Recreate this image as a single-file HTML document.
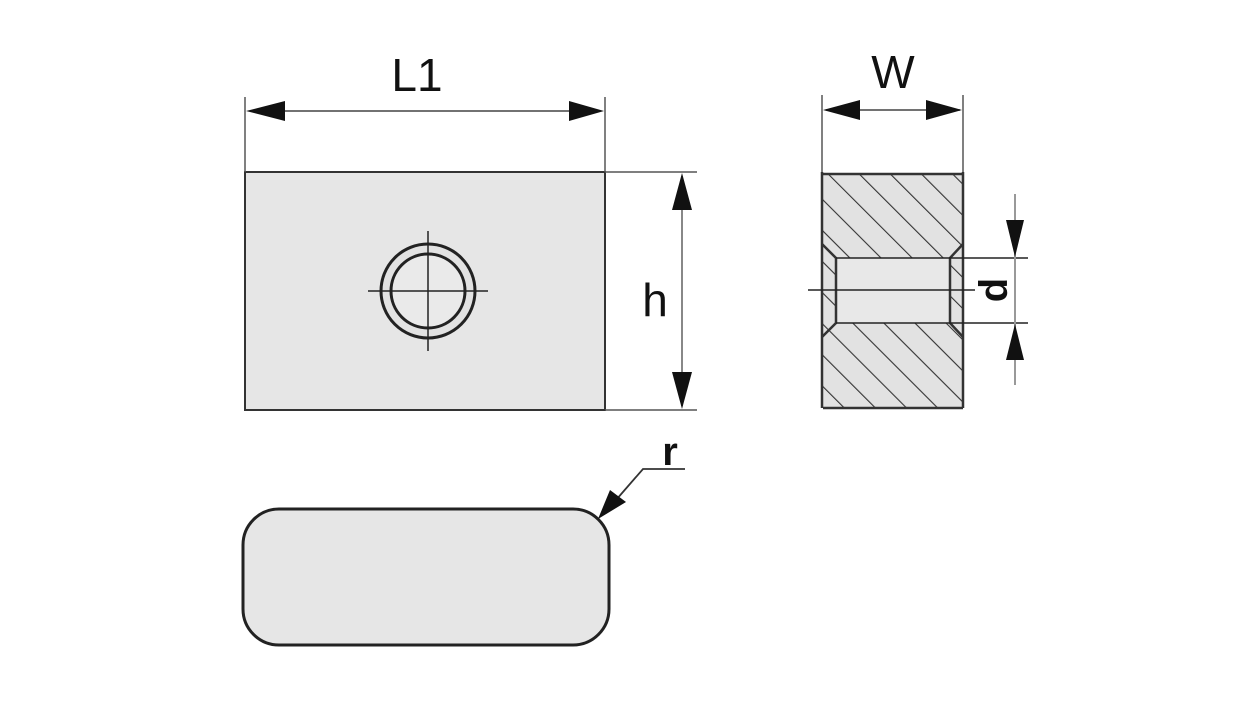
<!DOCTYPE html>
<html><head><meta charset="utf-8"><style>
html,body{margin:0;padding:0;background:#fff;}
svg{display:block;}
text{font-family:"Liberation Sans",sans-serif;fill:#111;}
</style></head><body>
<svg width="1236" height="708" viewBox="0 0 1236 708" xmlns="http://www.w3.org/2000/svg">
<defs>
<pattern id="hatch" patternUnits="userSpaceOnUse" width="22" height="22" patternTransform="rotate(-45)">
<rect width="22" height="22" fill="#e2e2e2"/>
<line x1="0" y1="0" x2="0" y2="22" stroke="#333" stroke-width="2.2"/>
</pattern>
</defs>

<!-- Front view -->
<rect x="245" y="172" width="360" height="238" fill="#e6e6e6" stroke="#333" stroke-width="2"/>
<circle cx="428" cy="291" r="47" fill="#e2e2e2" stroke="#222" stroke-width="3"/>
<circle cx="428" cy="291" r="37" fill="#eaeaea" stroke="#222" stroke-width="3"/>
<line x1="368" y1="291" x2="488" y2="291" stroke="#222" stroke-width="1.5"/>
<line x1="428" y1="231" x2="428" y2="351" stroke="#222" stroke-width="1.5"/>

<!-- L1 dim -->
<line x1="245" y1="97" x2="245" y2="172" stroke="#555" stroke-width="1.5"/>
<line x1="605" y1="97" x2="605" y2="172" stroke="#555" stroke-width="1.5"/>
<line x1="250" y1="111" x2="600" y2="111" stroke="#444" stroke-width="1.5"/>
<polygon points="246,111 285,101 285,121" fill="#111"/>
<polygon points="604,111 569,101 569,121" fill="#111"/>
<text x="417" y="91" font-size="46" text-anchor="middle">L1</text>

<!-- h dim -->
<line x1="605" y1="172" x2="697" y2="172" stroke="#555" stroke-width="1.5"/>
<line x1="605" y1="410" x2="697" y2="410" stroke="#555" stroke-width="1.5"/>
<line x1="682" y1="176" x2="682" y2="406" stroke="#888" stroke-width="2"/>
<polygon points="682,173 672,210 692,210" fill="#111"/>
<polygon points="682,409 672,372 692,372" fill="#111"/>
<text x="655" y="316" font-size="46" text-anchor="middle">h</text>

<!-- Side view -->
<rect x="823" y="174" width="140" height="234" fill="url(#hatch)"/>
<rect x="836" y="258" width="114" height="65" fill="#e8e8e8"/>
<path d="M823,174 L963,174 M823,408 L963,408" stroke="#333" stroke-width="2.5" fill="none"/>
<line x1="822" y1="172" x2="822" y2="408" stroke="#333" stroke-width="2.5"/>
<line x1="963" y1="172" x2="963" y2="408" stroke="#333" stroke-width="2.5"/>
<path d="M822,244 L836,258 L836,323 L822,337 M963,244 L950,258 L950,323 L963,337" stroke="#333" stroke-width="2.5" fill="none"/>
<line x1="836" y1="258" x2="1028" y2="258" stroke="#222" stroke-width="1.5"/>
<line x1="836" y1="323" x2="1028" y2="323" stroke="#222" stroke-width="1.5"/>
<line x1="808" y1="290" x2="975" y2="290" stroke="#222" stroke-width="1.5"/>

<!-- W dim -->
<line x1="822" y1="95" x2="822" y2="172" stroke="#555" stroke-width="1.5"/>
<line x1="963" y1="95" x2="963" y2="172" stroke="#555" stroke-width="1.5"/>
<line x1="826" y1="110" x2="960" y2="110" stroke="#444" stroke-width="1.5"/>
<polygon points="823,110 860,100 860,120" fill="#111"/>
<polygon points="962,110 926,100 926,120" fill="#111"/>
<text x="893" y="88" font-size="46" text-anchor="middle">W</text>

<!-- d dim -->
<line x1="1015" y1="194" x2="1015" y2="385" stroke="#999" stroke-width="2"/>
<polygon points="1015,257 1006,220 1024,220" fill="#111"/>
<polygon points="1015,324 1006,360 1024,360" fill="#111"/>
<text x="993" y="290" font-size="40" font-weight="bold" text-anchor="middle" transform="rotate(-90 993 290)" dy="14">d</text>

<!-- Bottom view -->
<rect x="243" y="509" width="366" height="136" rx="36" ry="36" fill="#e6e6e6" stroke="#222" stroke-width="3"/>

<!-- r leader -->
<polyline points="685,469 643,469 616,500" fill="none" stroke="#333" stroke-width="1.8"/>
<polygon points="598,519 610,490 626,502" fill="#111"/>
<text x="670" y="465" font-size="40" font-weight="bold" text-anchor="middle">r</text>
</svg>
</body></html>
